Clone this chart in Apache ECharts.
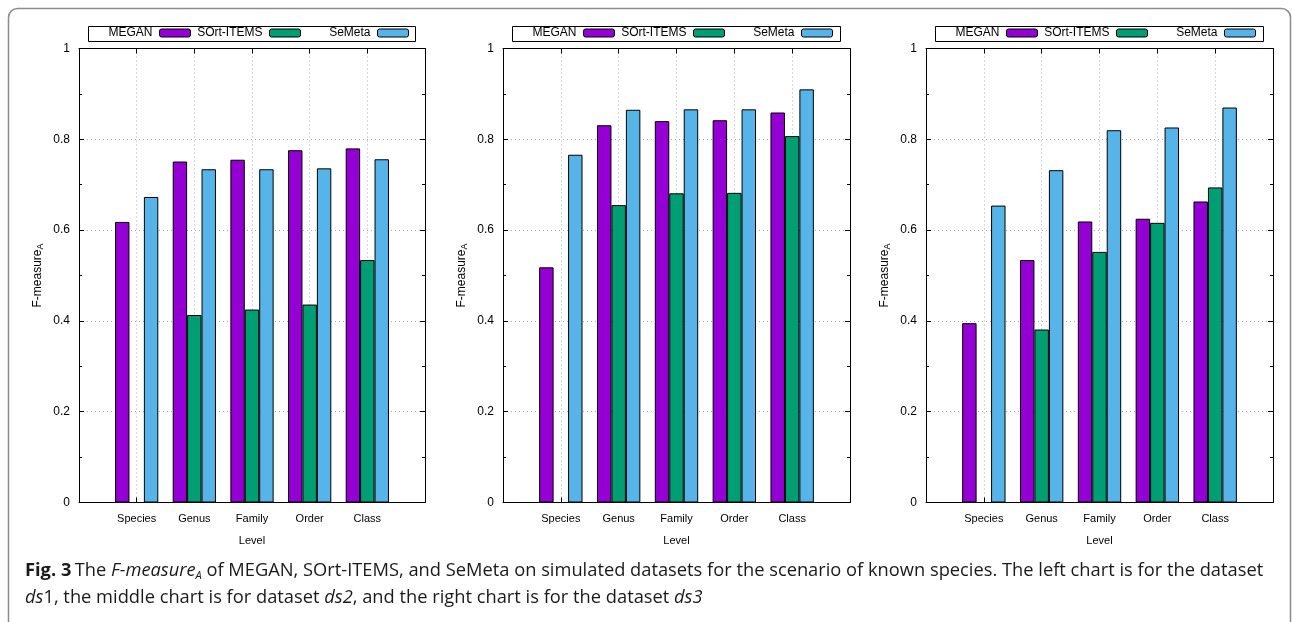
<!DOCTYPE html>
<html>
<head>
<meta charset="utf-8">
<script src="https://cdn.jsdelivr.net/npm/echarts@6/dist/echarts.min.js"></script>
<style>html,body{margin:0;padding:0;background:#fff}#c{width:1292px;height:622px}</style>
</head>
<body>
<div id="c"></div>
<script>
// ---- data ----
const categories = ['Species', 'Genus', 'Family', 'Order', 'Class'];
const seriesNames = ['MEGAN', 'SOrt-ITEMS', 'SeMeta'];
// dataset ds1 (left)
const ds1_MEGAN  = [0.618, 0.751, 0.755, 0.776, 0.780];
const ds1_SORT   = [null,  0.413, 0.425, 0.436, 0.534];
const ds1_SEMETA = [0.673, 0.734, 0.734, 0.736, 0.756];
// dataset ds2 (middle)
const ds2_MEGAN  = [0.518, 0.831, 0.840, 0.842, 0.859];
const ds2_SORT   = [null,  0.655, 0.681, 0.682, 0.807];
const ds2_SEMETA = [0.766, 0.865, 0.866, 0.866, 0.910];
// dataset ds3 (right)
const ds3_MEGAN  = [0.395, 0.534, 0.619, 0.625, 0.663];
const ds3_SORT   = [null,  0.381, 0.552, 0.616, 0.694];
const ds3_SEMETA = [0.654, 0.732, 0.820, 0.826, 0.870];
const yTicks = [0, 0.2, 0.4, 0.6, 0.8, 1];

// ---- styles ----
const colors = ['#9400D3', '#009E73', '#56B4E9'];
const FONT = "'Liberation Sans', Arial, Helvetica, sans-serif";
const panels = [
  { left: 79,  width: 346, data: [ds1_MEGAN, ds1_SORT, ds1_SEMETA] },
  { left: 503, width: 347, data: [ds2_MEGAN, ds2_SORT, ds2_SEMETA] },
  { left: 926, width: 347, data: [ds3_MEGAN, ds3_SORT, ds3_SEMETA] }
];
const TOP = 48.5, HEIGHT = 454;
const axisCats = [''].concat(categories, ['']);
const pad = arr => [null].concat(arr, [null]);

const grid = [], xAxis = [], yAxis = [], series = [], legend = [], graphic = [];
const gridLine = { show: true, lineStyle: { color: '#b0b0b0', width: 1, type: [1, 3] } };
const blackLine = { show: true, onZero: false, lineStyle: { color: '#000', width: 1 } };

panels.forEach((p, i) => {
  grid.push({ left: p.left, width: p.width, top: TOP, height: HEIGHT, containLabel: false });
  // bottom x
  xAxis.push({
    type: 'category', gridIndex: i, data: axisCats, boundaryGap: false, position: 'bottom',
    axisLine: blackLine,
    axisTick: { show: true, inside: true, length: 5, lineStyle: { color: '#000' } },
    axisLabel: { color: '#000', fontSize: 11, fontFamily: FONT, margin: 11, interval: 0 },
    splitLine: gridLine,
    name: 'Level', nameLocation: 'middle', nameGap: 33,
    nameTextStyle: { color: '#000', fontSize: 11, fontFamily: FONT }
  });
  // top mirror x
  xAxis.push({
    type: 'category', gridIndex: i, data: axisCats, boundaryGap: false, position: 'top',
    axisLine: blackLine,
    axisTick: { show: true, inside: true, length: 5, lineStyle: { color: '#000' } },
    axisLabel: { show: false }, splitLine: { show: false }
  });
  // left y
  yAxis.push({
    type: 'value', gridIndex: i, min: yTicks[0], max: yTicks[yTicks.length - 1], interval: 0.2,
    position: 'left',
    axisLine: blackLine,
    axisTick: { show: true, inside: true, length: 5, lineStyle: { color: '#000' } },
    minorTick: { show: true, splitNumber: 2, length: 3, lineStyle: { color: '#000' } },
    axisLabel: { color: '#000', fontSize: 12, fontFamily: FONT, margin: 9 },
    splitLine: gridLine,
    name: '{m|F-measure}{s|A}', nameLocation: 'middle', nameGap: 34,
    nameTextStyle: {
      color: '#000', fontSize: 11, fontFamily: FONT,
      rich: {
        m: { fontSize: 12, fontFamily: FONT, color: '#000' },
        s: { fontSize: 9, fontFamily: FONT, color: '#000', padding: [6, 0, 0, 0], verticalAlign: 'bottom' }
      }
    }
  });
  // right mirror y
  yAxis.push({
    type: 'value', gridIndex: i, min: yTicks[0], max: yTicks[yTicks.length - 1], interval: 0.2,
    position: 'right',
    axisLine: blackLine,
    axisTick: { show: true, inside: true, length: 5, lineStyle: { color: '#000' } },
    minorTick: { show: true, splitNumber: 2, length: 3, lineStyle: { color: '#000' } },
    axisLabel: { show: false }, splitLine: { show: false }
  });
  p.data.forEach((vals, k) => {
    series.push({
      type: 'bar', name: seriesNames[k], xAxisIndex: 2 * i, yAxisIndex: 2 * i,
      data: pad(vals), barWidth: '25%', barGap: '0%',
      itemStyle: { color: colors[k], borderColor: '#000', borderWidth: 1 },
      emphasis: { disabled: true }, animation: false
    });
  });
  // legend box
  const L = p.left + 9;
  graphic.push({
    type: 'rect', shape: { x: L + 0.5, y: 26.5, width: p.width - 19, height: 15 },
    style: { fill: '#fff', stroke: '#000', lineWidth: 1 }, z: 10
  });
  const offs = [103, 213, 321];
  seriesNames.forEach((nm, k) => {
    legend.push({
      data: [nm], right: 1292 - (L + offs[k]), top: 27, padding: 0, align: 'right',
      itemWidth: 31, itemHeight: 8, itemGap: 0, selectedMode: false, z: 20,
      textStyle: { color: '#000', fontSize: 12, fontFamily: FONT, padding: [0, 2, 0, 0] },
      itemStyle: { borderColor: '#000', borderWidth: 1 }
    });
  });
});

// figure border
graphic.push({
  type: 'rect', shape: { x: 8.5, y: 8.5, width: 1282, height: 700, r: 9 },
  style: { fill: null, stroke: '#8c8c8c', lineWidth: 1.5 }, z: 1, silent: true
});
// caption
const CF = "'Open Sans', 'Noto Sans', sans-serif";
const CS = 18.3;
graphic.push({
  type: 'text', left: 25, top: 562, z: 5,
  style: {
    text: '{b|Fig. 3} {n|The }{i|F-measure}{sub|A}{n| of MEGAN, SOrt-ITEMS, and SeMeta on simulated datasets for the scenario of known species. The left chart is for the dataset}',
    rich: {
      b: { fontFamily: CF, fontSize: CS, fontWeight: 'bold', fill: '#1a1a1a' },
      n: { fontFamily: CF, fontSize: CS, fill: '#1a1a1a' },
      i: { fontFamily: CF, fontSize: CS, fontStyle: 'italic', fill: '#1a1a1a' },
      sub: { fontFamily: CF, fontSize: 11, fontStyle: 'italic', fill: '#1a1a1a', verticalAlign: 'bottom', padding: [9, 0, 0, 0] }
    }
  }
});
graphic.push({
  type: 'text', left: 25, top: 589, z: 5,
  style: {
    text: '{i|ds}{n|1, the middle chart is for dataset }{i|ds2}{n|, and the right chart is for the dataset }{i|ds3}',
    rich: {
      n: { fontFamily: CF, fontSize: CS, fill: '#1a1a1a' },
      i: { fontFamily: CF, fontSize: CS, fontStyle: 'italic', fill: '#1a1a1a' }
    }
  }
});

const chart = echarts.init(document.getElementById('c'), null, { renderer: 'canvas' });
chart.setOption({
  animation: false,
  backgroundColor: '#fff',
  grid, xAxis, yAxis, series, legend, graphic
});
</script>
</body>
</html>
